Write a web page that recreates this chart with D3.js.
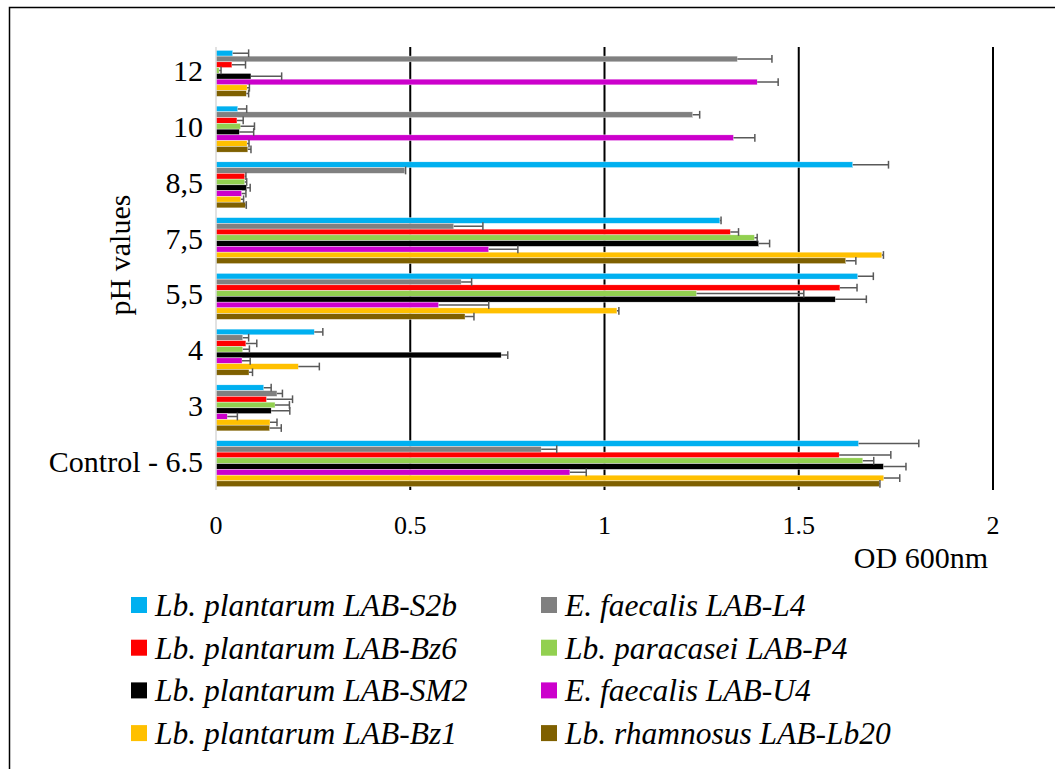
<!DOCTYPE html>
<html>
<head>
<meta charset="utf-8">
<script src="https://cdn.jsdelivr.net/npm/d3@7"></script>
<style>
  body { margin: 0; background: #fff; }
  text { font-family: "Liberation Serif", "Times New Roman", serif; }
</style>
</head>
<body>
<div id="chart"></div>
<script>
// categories, top to bottom
const categories = ["12", "10", "8,5", "7,5", "5,5", "4", "3", "Control - 6.5"];
const series = [
  "Lb. plantarum LAB-S2b", "E. faecalis LAB-L4",
  "Lb. plantarum LAB-Bz6", "Lb. paracasei LAB-P4",
  "Lb. plantarum LAB-SM2", "E. faecalis LAB-U4",
  "Lb. plantarum LAB-Bz1", "Lb. rhamnosus LAB-Lb20"
];
const colors = ["#00B0F0", "#808080", "#FF0000", "#92D050", "#000000", "#CC00CC", "#FFC000", "#7F6000"];

// OD600 per series, one value per category (same order as categories)
const valS2b  = [0.043, 0.056, 1.639, 1.297, 1.652, 0.253, 0.123, 1.654];
const valL4   = [1.342, 1.227, 0.486, 0.612, 0.631, 0.069, 0.157, 0.837];
const valBz6  = [0.041, 0.054, 0.074, 1.324, 1.606, 0.077, 0.130, 1.604];
const valP4   = [0.008, 0.063, 0.074, 1.386, 1.237, 0.069, 0.152, 1.665];
const valSM2  = [0.090, 0.060, 0.079, 1.397, 1.594, 0.734, 0.142, 1.718];
const valU4   = [1.393, 1.332, 0.066, 0.702, 0.573, 0.067, 0.029, 0.911];
const valBz1  = [0.080, 0.080, 0.064, 1.714, 1.032, 0.212, 0.139, 1.719];
const valLb20 = [0.078, 0.082, 0.076, 1.621, 0.641, 0.085, 0.138, 1.707];

// error (plus side only)
const errS2b  = [0.041, 0.023, 0.092, 0.003, 0.040, 0.022, 0.019, 0.155];
const errL4   = [0.089, 0.018, 0.002, 0.075, 0.027, 0.015, 0.014, 0.040];
const errBz6  = [0.035, 0.016, 0.003, 0.021, 0.044, 0.028, 0.067, 0.133];
const errP4   = [0.005, 0.036, 0.005, 0.007, 0.276, 0.017, 0.037, 0.028];
const errSM2  = [0.079, 0.037, 0.009, 0.028, 0.080, 0.017, 0.048, 0.058];
const errU4   = [0.054, 0.055, 0.011, 0.075, 0.129, 0.021, 0.026, 0.042];
const errBz1  = [0.006, 0.005, 0.007, 0.004, 0.005, 0.054, 0.018, 0.041];
const errLb20 = [0.006, 0.008, 0.002, 0.026, 0.023, 0.009, 0.030, 0.002];

const xTicks = [0, 0.5, 1, 1.5, 2];
const xTickLabels = ["0", "0.5", "1", "1.5", "2"];

const values = [valS2b, valL4, valBz6, valP4, valSM2, valU4, valBz1, valLb20];
const errors = [errS2b, errL4, errBz6, errP4, errSM2, errU4, errBz1, errLb20];

const width = 1055, height = 769;

const svg = d3.select("#chart").append("svg")
  .attr("width", width)
  .attr("height", height)
  .attr("viewBox", [0, 0, width, height]);

svg.append("rect").attr("width", width).attr("height", height).attr("fill", "#fff");

// outer frame (right/bottom fall outside the picture)
svg.append("rect")
  .attr("x", 9.5).attr("y", 7.5)
  .attr("width", 1200).attr("height", 900)
  .attr("fill", "none").attr("stroke", "#000").attr("stroke-width", 1.5);

const x = d3.scaleLinear().domain([0, 2]).range([216, 993]);

const y = d3.scaleBand()
  .domain(categories)
  .range([47, 490])
  .paddingInner(0.174)
  .paddingOuter(0.06);

const yInner = d3.scaleBand()
  .domain(series)
  .range([0, y.bandwidth()]);

// gridlines
svg.append("g")
  .selectAll("line")
  .data(xTicks.slice(1))
  .join("line")
  .attr("x1", d => x(d)).attr("x2", d => x(d))
  .attr("y1", 47).attr("y2", 490)
  .attr("stroke", "#000").attr("stroke-width", 2);

// flatten bars
const bars = [];
series.forEach((s, si) => {
  categories.forEach((c, ci) => {
    bars.push({ s, si, c, v: values[si][ci], e: errors[si][ci] });
  });
});

svg.append("g")
  .selectAll("rect")
  .data(bars)
  .join("rect")
  .attr("x", x(0))
  .attr("y", d => y(d.c) + yInner(d.s))
  .attr("width", d => x(d.v) - x(0))
  .attr("height", yInner.bandwidth())
  .attr("fill", d => colors[d.si])
  .attr("stroke", "#fff")
  .attr("stroke-width", 0.4);

// error bars
const eg = svg.append("g").attr("stroke", "#595959").attr("stroke-width", 1.5);
eg.selectAll(".eb")
  .data(bars)
  .join("line")
  .attr("x1", d => x(d.v)).attr("x2", d => x(d.v + d.e))
  .attr("y1", d => y(d.c) + yInner(d.s) + yInner.bandwidth() / 2)
  .attr("y2", d => y(d.c) + yInner(d.s) + yInner.bandwidth() / 2);
eg.selectAll(".cap")
  .data(bars)
  .join("line")
  .attr("x1", d => x(d.v + d.e)).attr("x2", d => x(d.v + d.e))
  .attr("y1", d => y(d.c) + yInner(d.s) - 1)
  .attr("y2", d => y(d.c) + yInner(d.s) + yInner.bandwidth() + 1);

// y axis line at 0
svg.append("line")
  .attr("x1", x(0)).attr("x2", x(0))
  .attr("y1", 47).attr("y2", 490)
  .attr("stroke", "#d9d9d9").attr("stroke-width", 1.5);

// y tick labels
svg.append("g")
  .selectAll("text")
  .data(categories)
  .join("text")
  .attr("x", 203)
  .attr("y", d => y(d) + y.bandwidth() / 2 - 2)
  .attr("dy", "0.33em")
  .attr("text-anchor", "end")
  .style("font-size", "30px")
  .text(d => d);

// x tick labels
svg.append("g")
  .selectAll("text")
  .data(xTicks)
  .join("text")
  .attr("x", d => x(d))
  .attr("y", 525)
  .attr("dy", "0.35em")
  .attr("text-anchor", "middle")
  .style("font-size", "26px")
  .text((d, i) => xTickLabels[i]);

svg.append("text")
  .attr("x", 988).attr("y", 557)
  .attr("dy", "0.35em")
  .attr("text-anchor", "end")
  .style("font-size", "30px")
  .text("OD 600nm");

svg.append("text")
  .attr("transform", "translate(119,255) rotate(-90)")
  .attr("dy", "0.35em")
  .attr("text-anchor", "middle")
  .style("font-size", "30px")
  .text("pH values");

// legend
const legend = svg.append("g")
  .selectAll("g")
  .data(series)
  .join("g")
  .attr("transform", (d, i) => `translate(${i % 2 === 0 ? 131 : 541},${605 + Math.floor(i / 2) * 42.7})`);

legend.append("rect")
  .attr("x", 0).attr("y", -8)
  .attr("width", 16).attr("height", 16)
  .attr("fill", (d, i) => colors[i]);

legend.append("text")
  .attr("x", 24)
  .attr("dy", "0.35em")
  .style("font-size", "31.5px")
  .style("font-style", "italic")
  .text(d => d);
</script>
</body>
</html>
